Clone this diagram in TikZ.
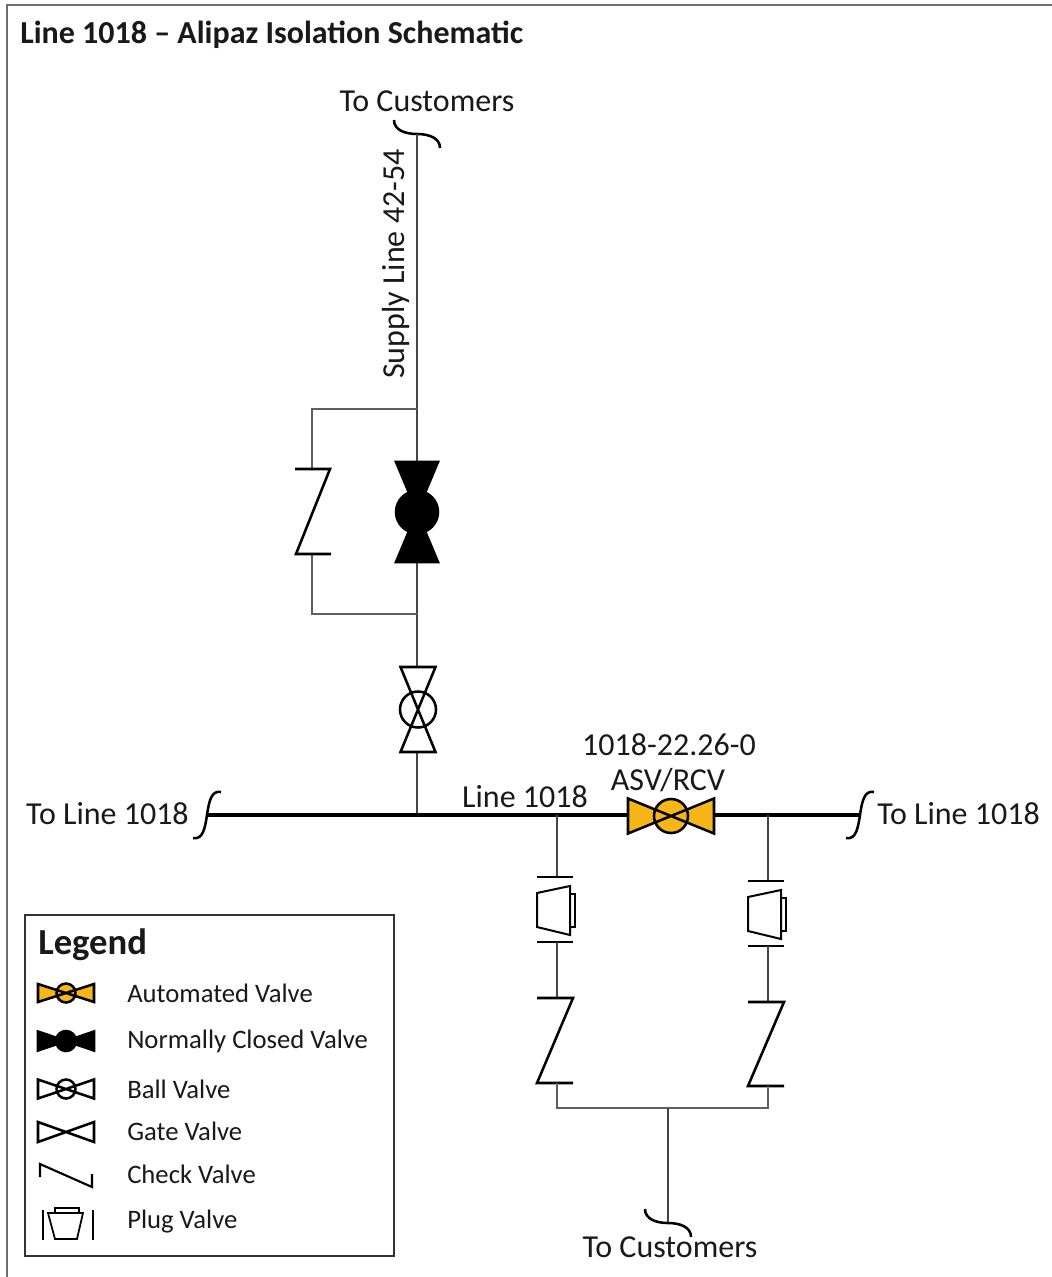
\documentclass[tikz,border=0pt]{standalone}
\usepackage{fontspec}
\setmainfont{Carlito}
\definecolor{pipegray}{RGB}{70,70,70}
\definecolor{bygray}{RGB}{95,95,95}
\definecolor{asvyellow}{RGB}{246,183,22}
\definecolor{txt}{RGB}{25,25,25}
\definecolor{framegray}{RGB}{110,110,110}
% generic two-triangle valve: cx cy rot halflen halfwid radius fill
\newcommand\valvesym[7]{%
 \begin{scope}[shift={(#1,#2)},rotate=#3]
  \fill[#7] (-#4,-#5) -- (0,0) -- (-#4,#5) -- cycle (#4,-#5) -- (0,0) -- (#4,#5) -- cycle;
  \ifdim#6pt>0pt \fill[#7] (0,0) circle[radius=#6*0.75pt];\fi
  \draw[sym] (-#4,-#5) -- (0,0) -- (-#4,#5) -- cycle (#4,-#5) -- (0,0) -- (#4,#5) -- cycle;
  \ifdim#6pt>0pt \draw[sym] (0,0) circle[radius=#6*0.75pt];\fi
 \end{scope}}
% vertical plug valve with flanges: x ytop
\newcommand\plugvert[2]{%
 \begin{scope}[shift={(#1,#2)}]
  \draw[sym,line width=1.5pt] (-20,0) -- (16,0) (-20,65) -- (16,65);
  \draw[sym,line width=1.5pt] (-20,16) -- (13,9) -- (13,58) -- (-20,50) -- cycle;
  \draw[sym,line width=1.5pt] (13,17) -- (18,17) -- (18,50) -- (13,50);
 \end{scope}}
% vertical check valve: x ytop length
\newcommand\checkvert[3]{%
 \begin{scope}[shift={(#1,#2)}]
  \draw[sym] (-20,0) -- (16,0) -- (-20,#3) -- (16,#3);
 \end{scope}}
\begin{document}
\begin{tikzpicture}[x=0.75pt,y=-0.75pt,
  pipe/.style={draw=pipegray,line width=1.5pt},
  bypipe/.style={draw=bygray,line width=1.5pt},
  mainpipe/.style={draw=black,line width=2.4pt},
  sym/.style={draw=black,line width=1.9pt,line join=miter},
  brk/.style={draw=black,line width=1.9pt},
  lbl/.style={font=\fontsize{24}{28}\selectfont,text=txt,inner sep=0pt},
  sidelbl/.style={font=\fontsize{24}{28}\selectfont,text=txt,inner sep=0pt},
  leglbl/.style={font=\fontsize{20}{24}\selectfont,text=txt,inner sep=0pt,anchor=west}]
\useasboundingbox (0,0) rectangle (1052,1277);
\fill[white] (0,0) rectangle (1052,1277);
% frame (cropped)
\draw[framegray,line width=1.6pt] (7,1277) -- (7,5) -- (1052,5);
% title
\node[font=\bfseries\fontsize{24}{28}\selectfont,text=txt,inner sep=0pt,anchor=base west] (title) at (20,44) {Line 1018 -- Alipaz Isolation Schematic};
% ---------- supply line ----------
\node[lbl] (custTop) at (427,101) {To Customers};
\node[lbl,rotate=90] (supplylbl) at (396,264) {Supply Line 42-54};
\coordinate (topbrk) at (417,134);
\coordinate (bypTop) at (417,409);
\coordinate (ncTop) at (417,462);
\coordinate (ncBot) at (417,562);
\coordinate (bypBot) at (417,614);
\coordinate (ballTop) at (417,667);
\coordinate (ballBot) at (417,752);
\coordinate (tee) at (417,815);
\draw[brk] (394,120) .. controls (394,130) and (405,134) .. (topbrk) .. controls (429,134) and (440,138) .. (440,148);
\draw[pipe] (topbrk) -- (ncTop);
\draw[pipe] (ncBot) -- (ballTop);
\draw[pipe] (ballBot) -- (tee);
% bypass
\coordinate (bcTop) at (312,469);
\coordinate (bcBot) at (312,554);
\draw[bypipe] (bypTop) -| (bcTop);
\draw[bypipe] (bcBot) |- (bypBot);
\draw[sym] (295,469) -- (330,469) -- (296,554) -- (331,554);
% normally closed valve
\valvesym{417}{512}{90}{50}{21}{21}{black}
% ball valve
\valvesym{418}{709.5}{90}{42.5}{17.5}{18}{white}
% ---------- main line ----------
\node[sidelbl,anchor=east] (lineL) at (189,814) {To Line 1018};
\node[sidelbl,anchor=west] (lineR) at (877,814) {To Line 1018};
\coordinate (mainL) at (207,815);
\coordinate (mainR) at (860,815);
\draw[brk] (193,838) .. controls (203,840) and (205,828) .. (mainL) .. controls (209,802) and (211,790) .. (221,792);
\draw[brk] (846,838) .. controls (856,840) and (858,828) .. (mainR) .. controls (862,802) and (864,790) .. (874,792);
\draw[mainpipe] (mainL) -- (mainR);
\node[lbl] (line1018) at (525,797) {Line 1018};
\node[lbl] (asvid) at (669,745) {1018-22.26-0};
\node[lbl] (asvlbl) at (668,780) {ASV/RCV};
\valvesym{671}{816}{0}{43}{17.5}{17}{asvyellow}
% ---------- lower branches ----------
\coordinate (brL) at (557,815);
\coordinate (brR) at (768,815);
\draw[pipe] (brL) -- (557,877);
\plugvert{557}{877}
\draw[pipe] (557,942) -- (557,998);
\checkvert{557}{998}{85}
\draw[pipe] (brR) -- (768,881);
\plugvert{768}{881}
\draw[pipe] (768,946) -- (768,1002);
\checkvert{768}{1002}{84}
\coordinate (jn) at (668,1108);
\draw[bypipe] (557,1083) |- (jn) -| (768,1086);
\coordinate (botbrk) at (668,1223);
\draw[pipe] (jn) -- (botbrk);
\draw[brk] (645,1209) .. controls (645,1219) and (656,1223) .. (botbrk) .. controls (680,1223) and (691,1227) .. (691,1237);
\node[lbl] (custBot) at (670,1247) {To Customers};
% ---------- legend ----------
\draw[draw=black!80,line width=1.3pt] (25,915) rectangle (394,1256);
\node[font=\bfseries\fontsize{27.5}{32}\selectfont,text=txt,inner sep=0pt,anchor=west] (legtitle) at (38,945) {Legend};
\valvesym{66}{993}{0}{28}{9}{9.5}{asvyellow}
\node[leglbl] (l1) at (127,993) {Automated Valve};
\valvesym{66}{1041}{0}{28}{9.5}{10}{black}
\node[leglbl] (l2) at (127,1041) {Normally Closed Valve};
\valvesym{66}{1089}{0}{28}{9.5}{9.5}{white}
\node[leglbl] (l3) at (127,1089) {Ball Valve};
\valvesym{66}{1132}{0}{28}{10}{0}{white}
\node[leglbl] (l4) at (127,1131) {Gate Valve};
\draw[sym,line width=1.6pt] (40,1177) -- (40,1164) -- (92,1187) -- (92,1174);
\node[leglbl] (l5) at (127,1174) {Check Valve};
\draw[sym,line width=1.3pt] (43,1210) -- (43,1240) (93,1210) -- (93,1240);
\draw[sym,line width=1.3pt] (48,1213) -- (83,1213) -- (77,1239) -- (55,1239) -- cycle;
\draw[sym,line width=1.3pt] (55,1213) -- (55,1208) -- (79,1208) -- (79,1213);
\node[leglbl] (l6) at (127,1222) {Plug Valve};
\end{tikzpicture}
\end{document}
